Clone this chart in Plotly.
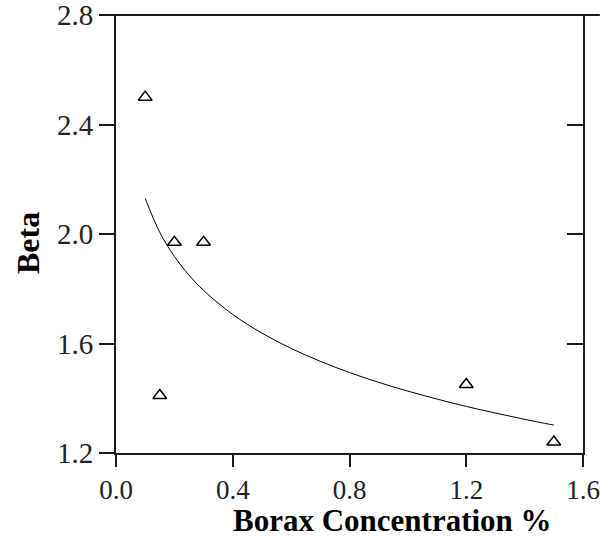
import plotly.graph_objects as go

# Measured data points
borax = [0.10, 0.20, 0.30, 0.15, 1.20, 1.50]
beta = [2.50, 1.97, 1.97, 1.41, 1.45, 1.24]

# Fitted curve
curve_x = [0.10, 0.15, 0.20, 0.25, 0.30, 0.40, 0.50, 0.60, 0.70, 0.80, 0.90, 1.00, 1.10, 1.20, 1.30, 1.40, 1.50]
curve_y = [2.130, 2.006, 1.918, 1.850, 1.794, 1.706, 1.638, 1.582, 1.535, 1.494, 1.458, 1.426, 1.397, 1.370, 1.346, 1.323, 1.302]

x_ticks = [0.0, 0.4, 0.8, 1.2, 1.6]
x_tick_text = ["0.0", "0.4", "0.8", "1.2", "1.6"]
y_ticks = [1.2, 1.6, 2.0, 2.4, 2.8]
y_tick_text = ["1.2", "1.6", "2.0", "2.4", "2.8"]

FONT = "Liberation Serif"
AX = "#1a1a1a"

fig = go.Figure()
fig.add_trace(go.Scatter(
    x=curve_x, y=curve_y, mode="lines", line=dict(color="black", width=1, shape="spline"),
    showlegend=False, hoverinfo="skip"))
fig.add_trace(go.Scatter(
    x=borax, y=beta, mode="markers",
    marker=dict(symbol="triangle-up-open", size=12, color="black", line=dict(width=1.5, color="black")),
    showlegend=False))
# invisible trace to host the right-hand axis
fig.add_trace(go.Scatter(x=[None], y=[None], yaxis="y2", showlegend=False, hoverinfo="skip"))

fig.update_layout(
    width=611, height=539,
    margin=dict(l=116, r=28, t=15, b=86, autoexpand=False),
    paper_bgcolor="white", plot_bgcolor="white",
    font=dict(family=FONT, color="black"),
    xaxis=dict(range=[0, 1.6], tickvals=x_ticks, ticktext=x_tick_text,
               ticks="outside", ticklen=12, tickwidth=2, tickcolor=AX,
               showline=True, linewidth=2, linecolor=AX, showgrid=False, zeroline=False,
               ticklabeloverflow="allow", automargin=False,
               tickfont=dict(family=FONT, size=27, color="#222")),
    yaxis=dict(range=[1.2, 2.8], tickvals=y_ticks, ticktext=y_tick_text,
               ticks="outside", ticklen=15, tickwidth=2, tickcolor=AX,
               showline=True, linewidth=2, linecolor=AX, showgrid=False, zeroline=False,
               ticklabeloverflow="allow", automargin=False,
               tickfont=dict(family=FONT, size=29, color="#222")),
    yaxis2=dict(range=[1.2, 2.8], tickvals=y_ticks, overlaying="y", side="right",
                ticks="inside", ticklen=16, tickwidth=2, tickcolor=AX,
                showline=True, linewidth=2, linecolor=AX, showgrid=False, zeroline=False,
                showticklabels=False, automargin=False),
    shapes=[dict(type="line", xref="paper", yref="paper", x0=-0.034, x1=1.036, y0=1, y1=1,
                 line=dict(color=AX, width=2))],
    annotations=[
        dict(text="<b>Borax Concentration %</b>", xref="paper", yref="paper", x=0.593, y=-0.196,
             showarrow=False, font=dict(family=FONT, size=31, color="black"),
             xanchor="center", yanchor="bottom", borderpad=0),
        dict(text="<b>Beta</b>", xref="paper", yref="paper", x=-0.19, y=0.48, textangle=-90,
             showarrow=False, font=dict(family=FONT, size=32, color="black"),
             xanchor="center", yanchor="middle"),
    ],
)

fig.write_html("out.html")
